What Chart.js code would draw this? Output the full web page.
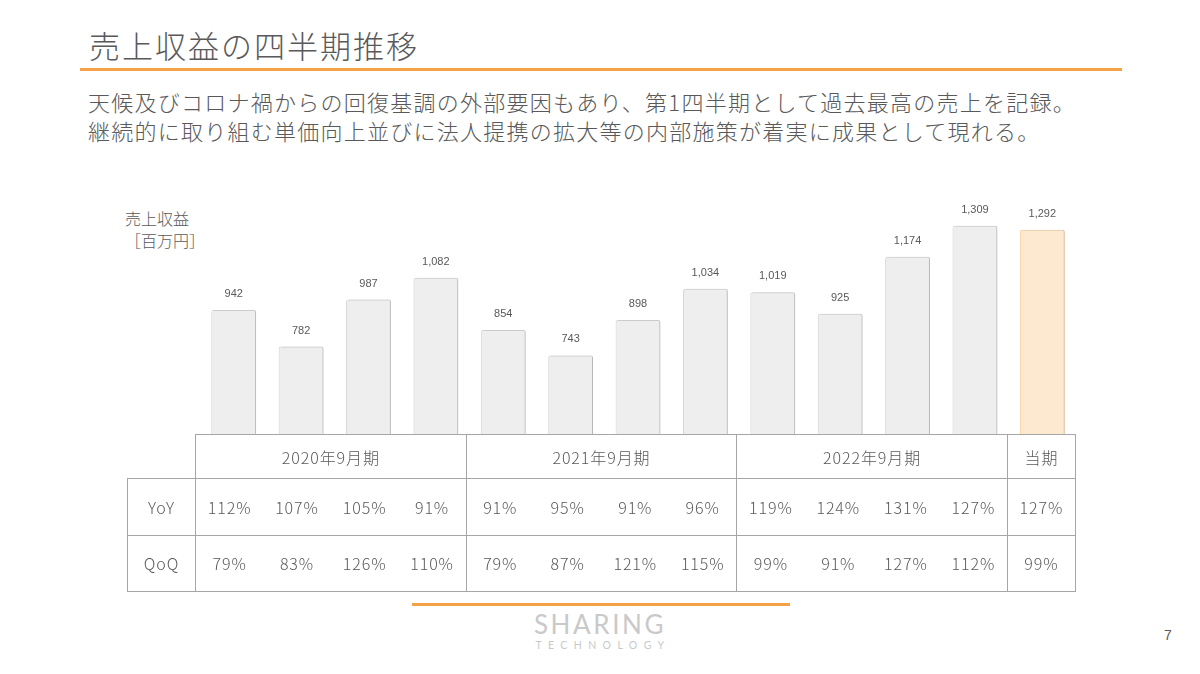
<!DOCTYPE html>
<html lang="ja">
<head>
<meta charset="utf-8">
<script src="https://cdn.jsdelivr.net/npm/chart.js@4"></script>
<style>
  html, body { margin:0; padding:0; background:#fff; }
  body { width:1200px; height:674px; position:relative; overflow:hidden;
         font-family:"Noto Sans CJK JP","Noto Sans",sans-serif; color:#595959; }
  .abs { position:absolute; white-space:nowrap; }
  #title { left:89px; top:24px; font-size:31px; line-height:42px; color:#595959; letter-spacing:2px; font-weight:300; }
  #rule { left:80px; top:68px; width:1042px; height:3px; background:#f7a147; }
  .sub { left:88px; font-size:22px; line-height:30px; color:#595959; letter-spacing:1.25px; font-weight:300; }
  #unit { left:125px; top:207px; font-size:16px; line-height:22px; color:#595959; font-weight:300; }
  #chartBox { left:0; top:180px; width:1200px; height:256px; }
  #tbl { left:127px; top:434px; border-collapse:collapse; table-layout:fixed; font-size:16px; color:#595959; letter-spacing:0.9px; font-weight:300; }
  #tbl td { padding:0; text-align:center; box-sizing:border-box; }
  #tbl tr.h td { height:44px; }
  #tbl tr.r td { height:56.5px; }
  .b { border:1.5px solid #a6a6a6; }
  #foot { left:412px; top:603px; width:378px; height:3px; background:#f7a147; }
  #logo1 { left:525px; top:608px; width:150px; text-align:center; font-family:"Lato","DejaVu Sans",sans-serif; font-weight:400; font-size:26px; letter-spacing:2.6px; color:#c9c9c9; line-height:32px; }
  #logo2 { left:525px; top:638px; width:150px; text-align:center; font-family:"Lato",sans-serif; font-weight:400; font-size:10.5px; letter-spacing:6.4px; color:#c9c9c9; line-height:14px; padding-left:6px; box-sizing:border-box; }
  #page { left:1164px; top:627px; font-size:14px; color:#595959; font-family:"Liberation Sans",Arial,sans-serif; }
</style>
</head>
<body>
<div id="title" class="abs">売上収益の四半期推移</div>
<div id="rule" class="abs"></div>
<div class="abs sub" style="top:86px">天候及びコロナ禍からの回復基調の外部要因もあり、第1四半期として過去最高の売上を記録。</div>
<div class="abs sub" style="top:115px">継続的に取り組む単価向上並びに法人提携の拡大等の内部施策が着実に成果として現れる。</div>
<div id="unit" class="abs">売上収益<br>［百万円］</div>
<div id="chartBox" class="abs"><canvas id="c"></canvas></div>
<table id="tbl" class="abs"></table>
<div id="foot" class="abs"></div>
<div id="logo1" class="abs">SHARING</div>
<div id="logo2" class="abs">TECHNOLOGY</div>
<div id="page" class="abs">7</div>
<script>
const quarters = ["2020Q1","2020Q2","2020Q3","2020Q4","2021Q1","2021Q2","2021Q3","2021Q4","2022Q1","2022Q2","2022Q3","2022Q4","当期"];
const revenue = [942, 782, 987, 1082, 854, 743, 898, 1034, 1019, 925, 1174, 1309, 1292];
const groups = ["2020年9月期","2021年9月期","2022年9月期","当期"];
const groupSpans = [4, 4, 4, 1];
const yoy = ["112%","107%","105%","91%","91%","95%","91%","96%","119%","124%","131%","127%","127%"];
const qoq = ["79%","83%","126%","110%","79%","87%","121%","115%","99%","91%","127%","112%","99%"];
const rowLabels = ["YoY","QoQ"];

const fills = revenue.map((v,i) => i === revenue.length-1 ? "#fde9cf" : "#eeeeee");
const borders = revenue.map((v,i) => i === revenue.length-1 ? "#f6d39f" : "#d6d6d6");

const labelPlugin = {
  id: "valueLabels",
  afterDatasetsDraw(chart) {
    const ctx = chart.ctx;
    const meta = chart.getDatasetMeta(0);
    ctx.save();
    ctx.font = "11px 'Liberation Sans', Arial, sans-serif";
    ctx.fillStyle = "#595959";
    ctx.textAlign = "center";
    ctx.textBaseline = "middle";
    meta.data.forEach((bar, i) => {
      ctx.fillText(revenue[i].toLocaleString("en-US"), bar.x, bar.y - 16);
    });
    ctx.restore();
  }
};
const shadowPlugin = {
  id: "barShadow",
  beforeDatasetDraw(chart) {
    const ctx = chart.ctx;
    ctx.save();
    ctx.shadowColor = "rgba(0,0,0,0.18)";
    ctx.shadowBlur = 2;
    ctx.shadowOffsetX = 1.5;
    ctx.shadowOffsetY = 0;
  },
  afterDatasetDraw(chart) { chart.ctx.restore(); }
};

new Chart(document.getElementById("c"), {
  type: "bar",
  data: {
    labels: quarters,
    datasets: [{
      data: revenue,
      backgroundColor: fills,
      borderColor: borders,
      borderWidth: 1,
      borderSkipped: "bottom",
      borderRadius: { topLeft: 2, topRight: 2, bottomLeft: 0, bottomRight: 0 },
      barPercentage: 0.665,
      categoryPercentage: 1
    }]
  },
  options: {
    responsive: true,
    maintainAspectRatio: false,
    animation: false,
    layout: { padding: { left: 200, right: 124, top: 25, bottom: 2 } },
    plugins: { legend: { display: false }, tooltip: { enabled: false } },
    scales: {
      x: { display: false },
      y: { display: false, min: 400, max: 1400 }
    }
  },
  plugins: [shadowPlugin, labelPlugin]
});

// Table
const tbl = document.getElementById("tbl");
const colW = [68].concat(quarters.map((q,i) => i === quarters.length-1 ? 68 : 812/12));
const cg = document.createElement("colgroup");
colW.forEach(w => { const c = document.createElement("col"); c.style.width = w + "px"; cg.appendChild(c); });
tbl.appendChild(cg);
tbl.style.width = colW.reduce((a,b)=>a+b,0) + "px";
const bc = "1.5px solid #a6a6a6";
const hr = document.createElement("tr"); hr.className = "h";
const blank = document.createElement("td"); blank.style.borderBottom = bc; hr.appendChild(blank);
groups.forEach((g, gi) => {
  const td = document.createElement("td");
  td.colSpan = groupSpans[gi];
  td.className = "b";
  td.textContent = g;
  hr.appendChild(td);
});
tbl.appendChild(hr);
const groupEnds = [];
let acc = 0; groupSpans.forEach(s => { acc += s; groupEnds.push(acc - 1); });
[yoy, qoq].forEach((arr, ri) => {
  const tr = document.createElement("tr"); tr.className = "r";
  const lab = document.createElement("td");
  lab.className = "b"; lab.textContent = rowLabels[ri];
  tr.appendChild(lab);
  arr.forEach((v, i) => {
    const td = document.createElement("td");
    td.textContent = v;
    td.style.borderTop = bc; td.style.borderBottom = bc;
    if (groupEnds.includes(i)) td.style.borderRight = bc;
    tr.appendChild(td);
  });
  tbl.appendChild(tr);
});
</script>
</body>
</html>
